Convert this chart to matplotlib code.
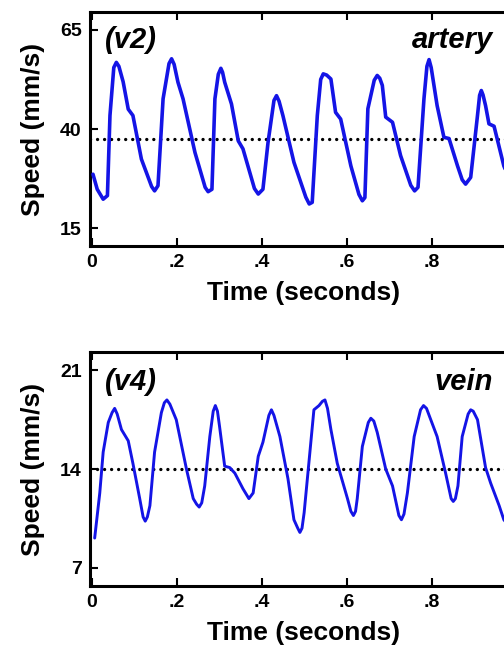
import matplotlib.pyplot as plt

# artery (v2) speed trace
artery_t = [0.002, 0.012, 0.026, 0.036, 0.042, 0.051, 0.057, 0.063, 0.073, 0.085,
            0.096, 0.116, 0.140, 0.147, 0.155, 0.167, 0.181, 0.187, 0.193, 0.202,
            0.214, 0.242, 0.266, 0.273, 0.282, 0.289, 0.297, 0.303, 0.307, 0.312,
            0.328, 0.344, 0.355, 0.382, 0.391, 0.402, 0.414, 0.428, 0.434, 0.440,
            0.449, 0.475, 0.503, 0.511, 0.518, 0.530, 0.538, 0.544, 0.552, 0.562,
            0.573, 0.585, 0.609, 0.628, 0.636, 0.642, 0.649, 0.664, 0.671, 0.677,
            0.683, 0.691, 0.707, 0.726, 0.750, 0.759, 0.767, 0.781, 0.788, 0.793,
            0.798, 0.812, 0.828, 0.840, 0.860, 0.871, 0.879, 0.891, 0.907, 0.912,
            0.916, 0.920, 0.926, 0.934, 0.946, 0.969, 0.985]
artery_v = [28.6, 24.8, 22.3, 23.2, 43.4, 55.5, 56.8, 55.8, 51.9, 45.0,
            43.4, 32.4, 25.5, 24.4, 25.7, 47.6, 56.5, 57.7, 56.3, 51.8,
            47.6, 34.1, 25.3, 24.2, 24.8, 47.6, 53.8, 55.3, 54.3, 51.8,
            46.3, 37.0, 35.0, 25.0, 23.6, 24.8, 36.6, 47.2, 48.4, 47.0,
            43.4, 31.6, 22.8, 21.1, 21.5, 43.4, 52.5, 53.9, 53.6, 52.6,
            44.2, 42.5, 30.7, 23.5, 21.9, 22.7, 45.1, 52.3, 53.5, 52.8,
            51.0, 43.0, 41.7, 33.3, 25.8, 24.4, 25.3, 47.6, 55.8, 57.5,
            55.5, 45.9, 37.9, 37.6, 30.7, 27.2, 26.1, 27.8, 43.4, 48.5,
            49.7, 48.6, 45.9, 41.3, 40.7, 30.7, 26.5]
artery_mean = 37.5

# vein (v4) speed trace
vein_t = [0.006, 0.018, 0.026, 0.038, 0.047, 0.053, 0.059, 0.069, 0.085, 0.096,
          0.112, 0.120, 0.125, 0.130, 0.136, 0.147, 0.163, 0.170, 0.176, 0.183,
          0.198, 0.222, 0.238, 0.246, 0.252, 0.258, 0.265, 0.277, 0.285, 0.290,
          0.295, 0.300, 0.312, 0.324, 0.336, 0.355, 0.369, 0.379, 0.391, 0.402,
          0.416, 0.422, 0.428, 0.442, 0.461, 0.475, 0.484, 0.489, 0.494, 0.499,
          0.511, 0.522, 0.534, 0.542, 0.548, 0.554, 0.562, 0.577, 0.601, 0.609,
          0.615, 0.620, 0.624, 0.636, 0.650, 0.656, 0.663, 0.671, 0.691, 0.707,
          0.722, 0.728, 0.734, 0.742, 0.758, 0.773, 0.780, 0.787, 0.812, 0.832,
          0.845, 0.850, 0.855, 0.861, 0.871, 0.885, 0.891, 0.897, 0.907, 0.926,
          0.938, 0.958, 0.969, 0.985]
vein_v = [9.1, 12.3, 15.2, 17.3, 18.0, 18.3, 17.9, 16.8, 16.0, 14.4,
          11.9, 10.6, 10.3, 10.6, 11.4, 15.2, 18.0, 18.7, 18.9, 18.6,
          17.5, 14.0, 11.9, 11.5, 11.3, 11.6, 12.8, 16.3, 18.1, 18.5,
          18.1, 17.0, 14.2, 14.1, 13.7, 12.6, 11.9, 12.3, 14.9, 15.9,
          17.8, 18.2, 17.8, 16.3, 13.3, 10.4, 9.8, 9.5, 9.8, 10.9,
          14.7, 18.2, 18.5, 18.8, 18.9, 18.3, 16.8, 14.4, 11.9, 11.0,
          10.7, 11.0, 11.9, 15.6, 17.3, 17.6, 17.4, 16.6, 14.0, 12.8,
          10.7, 10.4, 10.8, 12.3, 16.3, 18.2, 18.5, 18.3, 16.3, 13.7,
          11.9, 11.7, 11.9, 12.8, 16.3, 17.9, 18.2, 18.1, 17.5, 14.1,
          13.0, 11.4, 10.4, 9.8]
vein_mean = 14.0

xticks = [0, 0.2, 0.4, 0.6, 0.8]
xtick_labels = ["0", ".2", ".4", ".6", ".8"]

plt.rcParams["font.family"] = ["Liberation Sans", "DejaVu Sans"]
plt.rcParams["font.weight"] = "bold"

fig = plt.figure(figsize=(5.04, 6.49), dpi=100)
W, H = 504.0, 649.0
ax1 = fig.add_axes([90 / W, (H - 246) / H, 427 / W, 234 / H])
ax2 = fig.add_axes([90 / W, (H - 586) / H, 427 / W, 234 / H])

panels = [
    (ax1, artery_t, artery_v, artery_mean, (10.5, 69.5), [15, 40, 65], "(v2)", "artery", 62.5, 2.6),
    (ax2, vein_t, vein_v, vein_mean, (5.7, 22.3), [7, 14, 21], "(v4)", "vein", 20.2, 2.1),
]

for ax, t, v, mean, ylim, yticks, tag, name, ytxt, lw in panels:
    ax.plot(t, v, color="#1414e6", lw=lw, solid_joinstyle="round",
            solid_capstyle="round", zorder=3)
    ax.axhline(mean, color="black", lw=2.4, dashes=(0.01, 2.1),
               dash_capstyle="round", zorder=2)
    ax.set_xlim(-0.005, 1.0)
    ax.set_ylim(*ylim)
    ax.set_yticks(yticks)
    ax.set_xticks(xticks)
    ax.set_xticklabels(xtick_labels)
    for s in ax.spines.values():
        s.set_linewidth(2.2)
    ax.tick_params(direction="in", top=True, right=True, length=6, width=1.5,
                   labelsize=14, pad=6)
    ax.set_xlabel("Time (seconds)", fontsize=19, fontweight="bold", labelpad=7)
    ax.set_ylabel("Speed (mm/s)", fontsize=19, fontweight="bold", labelpad=11)
    ax.text(0.03, ytxt, tag, fontsize=21, fontweight="bold", style="italic",
            ha="left", va="center")
    ax.text(0.943, ytxt, name, fontsize=21, fontweight="bold", style="italic",
            ha="right", va="center")

fig.savefig("out.png", dpi=100)
